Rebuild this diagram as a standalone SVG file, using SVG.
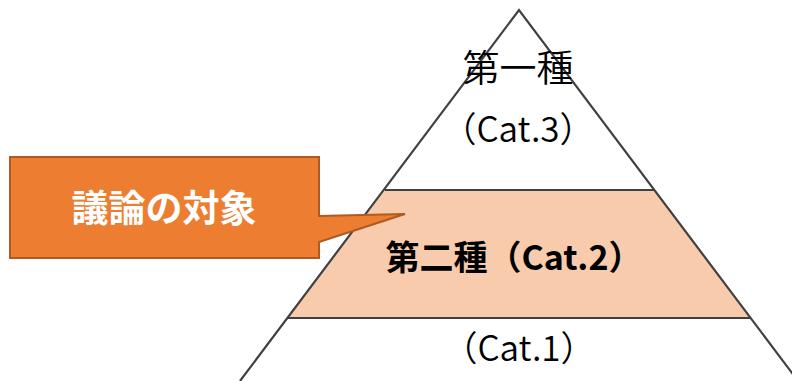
<svg xmlns="http://www.w3.org/2000/svg" width="792" height="381" viewBox="0 0 792 381">
<style>
.edge{stroke:#404040;stroke-width:2.2;fill:none}
.t{font-family:"Noto Sans CJK JP","Liberation Sans",sans-serif;text-anchor:middle;fill:#000}
</style>
<rect width="792" height="381" fill="#fff"/>
<g id="cat2">
<polygon points="385,190 655,190 751,318 288,318" fill="#F8CBAD"/>
</g>
<g id="connectors">
<polyline class="edge" points="240,381 519,10 798,381"/>
<line class="edge" x1="385" y1="190" x2="655" y2="190"/>
<line class="edge" x1="288" y1="318" x2="751" y2="318"/>
</g>
<g id="cat3">
<text class="t" x="518" y="82" font-size="37" font-weight="350">第一種</text>
<text class="t" x="518" y="142" font-size="35" font-weight="350">（Cat.3）</text>
</g>
<g id="cat2label">
<text class="t" x="514" y="270" font-size="34" font-weight="700">第二種（Cat.2）</text>
</g>
<g id="cat1">
<text class="t" x="519" y="361" font-size="35" font-weight="350">（Cat.1）</text>
</g>
<g id="callout">
<path d="M10,157 H319 V216 L405,214 L319,242 V258 H10 Z" fill="#ED7D31" stroke="#AE5A21" stroke-width="2"/>
<text class="t" x="164" y="222" font-size="37" font-weight="700" style="fill:#fff">議論の対象</text>
</g>
</svg>
